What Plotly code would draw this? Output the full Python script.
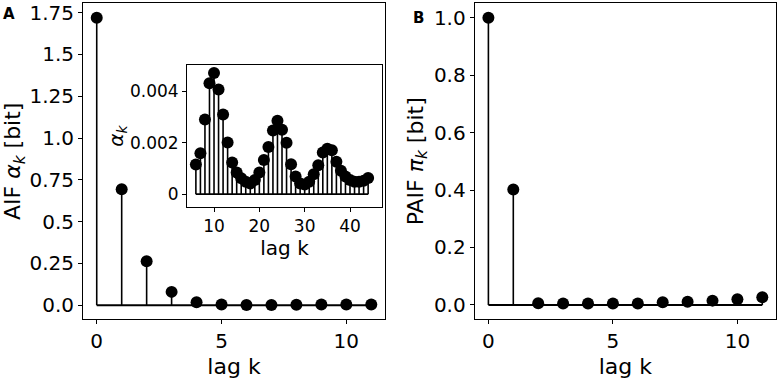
import plotly.graph_objects as go

# ---- data ----
lags_main = list(range(0, 12))
aif_values = [1.72, 0.694, 0.263, 0.080, 0.018, 0.004, 0.00115, 0.0016, 0.0029, 0.0043, 0.0047, 0.0041]
paif_values = [1.0, 0.402, 0.006, 0.005, 0.005, 0.005, 0.005, 0.009, 0.011, 0.015, 0.020, 0.027]

lags_inset = list(range(6, 45))
aif_inset = [0.00115, 0.00159, 0.0029, 0.00431, 0.00471, 0.00407, 0.0031, 0.00201,
             0.00123, 0.00084, 0.00062, 0.00048, 0.00041, 0.00055, 0.00084, 0.00133,
             0.00183, 0.00247, 0.00285, 0.0025, 0.002, 0.00116, 0.00069, 0.00041,
             0.00037, 0.00048, 0.00077, 0.00112, 0.00162, 0.00176, 0.00171, 0.00126,
             0.00091, 0.00069, 0.00055, 0.00048, 0.00048, 0.00052, 0.00063]

a_ytickvals = [0.0, 0.25, 0.5, 0.75, 1.0, 1.25, 1.5, 1.75]
a_yticktext = ["0.0", "0.25", "0.5", "0.75", "1.0", "1.25", "1.5", "1.75"]
b_ytickvals = [0.0, 0.2, 0.4, 0.6, 0.8, 1.0]
b_yticktext = ["0.0", "0.2", "0.4", "0.6", "0.8", "1.0"]
main_xtickvals = [0, 5, 10]
inset_xtickvals = [10, 20, 30, 40]
inset_ytickvals = [0, 0.002, 0.004]
inset_yticktext = ["0", "0.002", "0.004"]

FONT = "DejaVu Sans"
fig = go.Figure()


def add_stem(x, y, xa, ya, msize, lw):
    sx, sy = [], []
    for xi, yi in zip(x, y):
        sx += [xi, xi, None]
        sy += [0, yi, None]
    fig.add_trace(go.Scatter(x=sx, y=sy, mode="lines", line=dict(color="black", width=lw),
                             xaxis=xa, yaxis=ya, hoverinfo="skip", showlegend=False))
    fig.add_trace(go.Scatter(x=[x[0], x[-1]], y=[0, 0], mode="lines",
                             line=dict(color="black", width=lw + 0.3),
                             xaxis=xa, yaxis=ya, hoverinfo="skip", showlegend=False))
    fig.add_trace(go.Scatter(x=x, y=y, mode="markers", marker=dict(color="black", size=msize),
                             xaxis=xa, yaxis=ya, showlegend=False))


add_stem(lags_main, aif_values, "x", "y", 12, 1.6)
add_stem(lags_main, paif_values, "x2", "y2", 12, 1.6)
add_stem(lags_inset, aif_inset, "x3", "y3", 12, 1.6)


def ax(size):
    return dict(showline=True, mirror=True, linecolor="black", linewidth=1,
                ticks="outside", ticklen=4, tickcolor="black", tickwidth=1, automargin=False,
                showgrid=False, zeroline=False, tickfont=dict(family=FONT, size=size, color="black"))


fig.update_layout(
    width=779, height=379,
    margin=dict(l=0, r=0, t=0, b=0),
    paper_bgcolor="white", plot_bgcolor="white",
    font=dict(family=FONT, color="black"),
    xaxis=dict(domain=[83 / 779, 385 / 779], anchor="y", range=[-0.55, 11.55],
               tickvals=main_xtickvals, title=dict(text="lag k", font=dict(size=22), standoff=6),
               **ax(20)),
    yaxis=dict(domain=[(379 - 319.3) / 379, (379 - 3.3) / 379], anchor="x", range=[-0.084, 1.806],
               tickvals=a_ytickvals, ticktext=a_yticktext,
               title=dict(text="AIF <i>α</i><sub><i>k</i></sub> [bit]", font=dict(size=22), standoff=4),
               **ax(20)),
    xaxis2=dict(domain=[474.7 / 779, 776 / 779], anchor="y2", range=[-0.55, 11.55],
                tickvals=main_xtickvals, title=dict(text="lag k", font=dict(size=22), standoff=6),
                **ax(20)),
    yaxis2=dict(domain=[(379 - 319.3) / 379, (379 - 3.3) / 379], anchor="x2", range=[-0.05, 1.05],
                tickvals=b_ytickvals, ticktext=b_yticktext,
                title=dict(text="PAIF <i>π</i><sub><i>k</i></sub> [bit]", font=dict(size=22), standoff=4),
                **ax(20)),
    xaxis3=dict(domain=[187 / 779, 382 / 779], anchor="y3", range=[4.04, 47.06],
                tickvals=inset_xtickvals, title=dict(text="lag k", font=dict(size=20), standoff=4),
                **ax(17)),
    yaxis3=dict(domain=[(379 - 207) / 379, (379 - 65) / 379], anchor="x3", range=[-0.0005, 0.00502],
                tickvals=inset_ytickvals, ticktext=inset_yticktext,
                title=dict(text="<i>α</i><sub><i>k</i></sub>", font=dict(size=20), standoff=0),
                **ax(17)),
    annotations=[
        dict(text="<b>A</b>", x=9 / 779, y=(379 - 14) / 379, xref="paper", yref="paper",
             xanchor="center", yanchor="middle",
             showarrow=False, font=dict(family=FONT, size=15, color="black")),
        dict(text="<b>B</b>", x=418 / 779, y=(379 - 18) / 379, xref="paper", yref="paper",
             xanchor="center", yanchor="middle",
             showarrow=False, font=dict(family=FONT, size=15, color="black")),
    ],
)

fig.write_html("out.html", config={"displayModeBar": False},
               post_script="document.body.style.margin='0';document.body.style.overflow='hidden';")
